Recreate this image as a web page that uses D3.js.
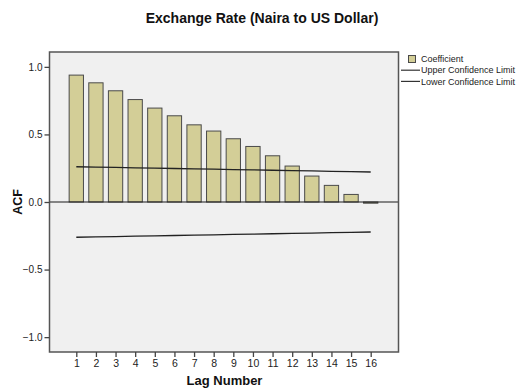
<!DOCTYPE html>
<html>
<head>
<meta charset="utf-8">
<script src="https://cdn.jsdelivr.net/npm/d3@7"></script>
<style>
  html, body { margin: 0; padding: 0; background: #ffffff; }
  svg { display: block; font-family: "Liberation Sans", Arial, sans-serif; }
</style>
</head>
<body>
<svg id="chart" width="523" height="389"></svg>
<script>
// Autocorrelation of the exchange rate series, lags 1..16
const lags = [1, 2, 3, 4, 5, 6, 7, 8, 9, 10, 11, 12, 13, 14, 15, 16];
const coefficient = [0.939, 0.882, 0.823, 0.758, 0.695, 0.638, 0.571, 0.525,
                     0.468, 0.411, 0.342, 0.266, 0.192, 0.123, 0.056, -0.006];
const upperLimit = [0.261, 0.258, 0.256, 0.253, 0.251, 0.248, 0.245, 0.243,
                    0.240, 0.238, 0.235, 0.232, 0.230, 0.227, 0.225, 0.222];
const lowerLimit = [-0.261, -0.258, -0.256, -0.253, -0.251, -0.248, -0.245, -0.243,
                    -0.240, -0.238, -0.235, -0.232, -0.230, -0.227, -0.225, -0.222];
const yTicks = [-1.0, -0.5, 0.0, 0.5, 1.0];
const legendItems = ["Coefficient", "Upper Confidence Limit", "Lower Confidence Limit"];

const svg = d3.select("#chart");

const plot = { left: 49.5, top: 52, right: 398.5, bottom: 352 };

const x = d3.scalePoint().domain(lags).range([76.3, 370.7]);
const barWidth = 14.3;
const y = d3.scaleLinear().domain([-1.11, 1.11]).range([plot.bottom, plot.top]);

// Plot background
svg.append("rect")
  .attr("x", plot.left).attr("y", plot.top)
  .attr("width", plot.right - plot.left).attr("height", plot.bottom - plot.top)
  .attr("fill", "#f0f0f0");

// Bars
svg.append("g").selectAll("rect")
  .data(lags.map((l, i) => ({ lag: l, v: coefficient[i] })))
  .join("rect")
  .attr("x", d => x(d.lag) - barWidth / 2)
  .attr("y", d => Math.min(y(d.v), y(0)))
  .attr("width", barWidth)
  .attr("height", d => Math.max(Math.abs(y(d.v) - y(0)), 1.2))
  .attr("fill", "#d3ce97")
  .attr("stroke", "#4a4a4a")
  .attr("stroke-width", 1);

// Zero reference line
svg.append("line")
  .attr("x1", plot.left).attr("x2", plot.right)
  .attr("y1", y(0)).attr("y2", y(0))
  .attr("stroke", "#1a1a1a").attr("stroke-width", 1);

// Confidence limits
const limitLine = d3.line().x((d, i) => x(lags[i])).y(d => y(d));
[upperLimit, lowerLimit].forEach(arr => {
  svg.append("path")
    .attr("d", limitLine(arr))
    .attr("fill", "none")
    .attr("stroke", "#222")
    .attr("stroke-width", 1.3);
});

// Plot frame
svg.append("rect")
  .attr("x", plot.left).attr("y", plot.top)
  .attr("width", plot.right - plot.left).attr("height", plot.bottom - plot.top)
  .attr("fill", "none").attr("stroke", "#555").attr("stroke-width", 1.5);

// Y axis
const yAxis = d3.axisLeft(y).tickValues(yTicks).tickSize(5).tickPadding(2)
  .tickFormat(d3.format(".1f"));
const gy = svg.append("g").attr("transform", `translate(${plot.left},0)`).call(yAxis);
gy.select(".domain").remove();
gy.selectAll(".tick line").attr("stroke", "#444").attr("stroke-width", 1.3);
gy.selectAll(".tick text").attr("fill", "#222").attr("font-size", 10)
  .attr("font-family", "Liberation Sans, Arial, sans-serif");

// X axis
const xAxis = d3.axisBottom(x).tickSize(5).tickPadding(3);
const gx = svg.append("g").attr("transform", `translate(0,${plot.bottom})`).call(xAxis);
gx.select(".domain").remove();
gx.selectAll(".tick line").attr("stroke", "#444").attr("stroke-width", 1.3);
gx.selectAll(".tick text").attr("fill", "#222").attr("font-size", 10.5)
  .attr("font-family", "Liberation Sans, Arial, sans-serif");

// Titles
svg.append("text")
  .attr("x", 262).attr("y", 23)
  .attr("text-anchor", "middle")
  .attr("font-size", 14).attr("font-weight", "bold").attr("fill", "#111")
  .text("Exchange Rate (Naira to US Dollar)");

svg.append("text")
  .attr("x", 224.5).attr("y", 385)
  .attr("text-anchor", "middle")
  .attr("font-size", 13).attr("font-weight", "bold").attr("fill", "#111")
  .text("Lag Number");

svg.append("text")
  .attr("transform", "translate(21.5,202) rotate(-90)")
  .attr("text-anchor", "middle")
  .attr("font-size", 12.5).attr("font-weight", "bold").attr("fill", "#111")
  .text("ACF");

// Legend
const lg = svg.append("g").attr("font-size", 9).attr("fill", "#222");
lg.append("rect")
  .attr("x", 408.5).attr("y", 55.5).attr("width", 7).attr("height", 7)
  .attr("fill", "#d3ce97").attr("stroke", "#4a4a4a").attr("stroke-width", 1);
[1, 2].forEach(i => {
  lg.append("line")
    .attr("x1", 401).attr("x2", 420)
    .attr("y1", 59 + i * 11.2).attr("y2", 59 + i * 11.2)
    .attr("stroke", "#333").attr("stroke-width", 1.2);
});
lg.selectAll("text")
  .data(legendItems)
  .join("text")
  .attr("x", 421)
  .attr("y", (d, i) => 59 + i * 11.2)
  .attr("dy", "0.35em")
  .text(d => d);
</script>
</body>
</html>
